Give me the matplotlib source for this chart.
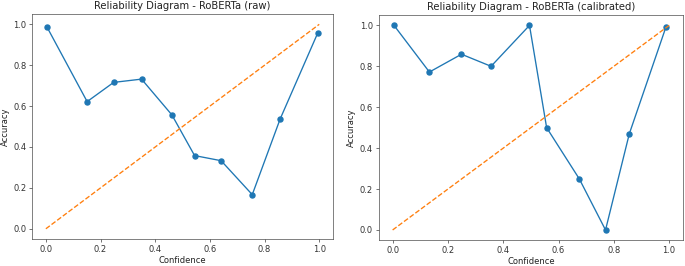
import matplotlib
matplotlib.use('Agg')
import matplotlib.pyplot as plt

raw_conf = [0.004, 0.151, 0.248, 0.35, 0.461, 0.544, 0.641, 0.755, 0.857, 0.995]
raw_acc = [0.987, 0.622, 0.716, 0.732, 0.557, 0.358, 0.333, 0.167, 0.537, 0.959]

cal_conf = [0.005, 0.133, 0.249, 0.356, 0.495, 0.557, 0.675, 0.770, 0.856, 0.988]
cal_acc = [1.0, 0.772, 0.859, 0.80, 1.0, 0.50, 0.25, 0.0, 0.47, 0.99]

titles = ['Reliability Diagram - RoBERTa (raw)', 'Reliability Diagram - RoBERTa (calibrated)']

# the reference looks like a default figure shrunk by ~0.6
s = 0.6
plt.rcParams['axes.linewidth'] = 0.8 * s
plt.rcParams['axes.edgecolor'] = '#444444'
plt.rcParams['xtick.major.width'] = 0.8 * s
plt.rcParams['ytick.major.width'] = 0.8 * s
plt.rcParams['xtick.color'] = '#333333'
plt.rcParams['ytick.color'] = '#333333'

fig = plt.figure(figsize=(6.85, 2.66), dpi=100)
ax1 = fig.add_axes([0.047, 0.1015, 0.439, 0.8455])
ax2 = fig.add_axes([0.553, 0.097, 0.444, 0.846])

for ax, conf, acc, title in [(ax1, raw_conf, raw_acc, titles[0]), (ax2, cal_conf, cal_acc, titles[1])]:
    ax.plot(conf, acc, marker='o', markersize=6 * s, linewidth=1.6 * s)
    ax.plot([0, 1], [0, 1], linestyle='--', linewidth=1.6 * s)
    ax.set_title(title, fontsize=12 * s, pad=6 * s, color='#222222')
    ax.set_xlabel('Confidence', fontsize=10 * s, labelpad=1.5, color='#222222')
    ax.set_ylabel('Accuracy', fontsize=10 * s, labelpad=4 * s, color='#222222')
    ax.tick_params(labelsize=10 * s, length=3.5 * s, pad=3.5 * s)

fig.savefig('out.png', dpi=100)
